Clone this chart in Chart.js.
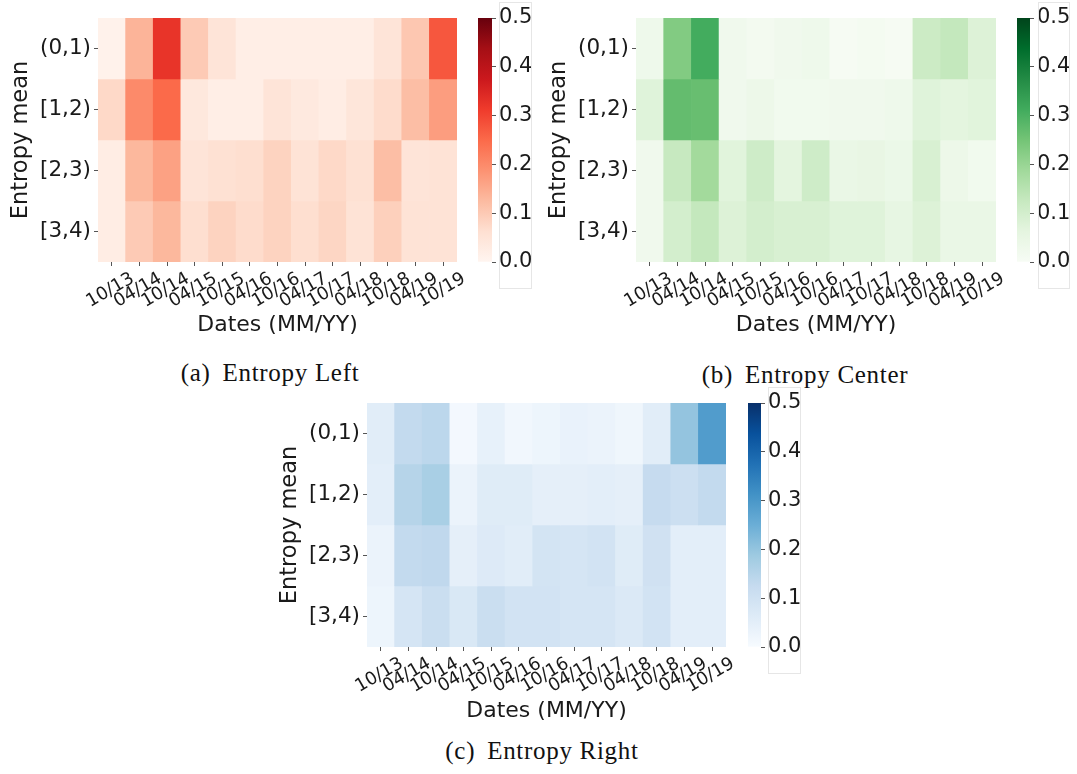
<!DOCTYPE html>
<html>
<head>
<meta charset="utf-8">
<script src="https://cdn.jsdelivr.net/npm/chart.js@4.4.0/dist/chart.umd.min.js"></script>
<style>
  body { margin: 0; background: #fff; width: 1077px; height: 774px; position: relative; overflow: hidden; }
  canvas { position: absolute; }
  .cap { position: absolute; font-family: "Liberation Serif", serif; font-size: 25px; color: #111;
         white-space: nowrap; transform: translate(-50%, -50%); letter-spacing: 0.7px; }
  .cap .lbl { margin-right: 12px; }
  .frame { position: absolute; border: 1px solid #e6e6e6; box-sizing: border-box; }
</style>
</head>
<body>
<canvas id="heatLeft" width="470" height="342" style="left:0px;top:0px"></canvas>
<canvas id="barLeft" width="75" height="290" style="left:468px;top:0px"></canvas>
<div class="frame" style="left:499px;top:2px;width:33px;height:287px"></div>
<div class="cap" style="left:270px;top:373px"><span class="lbl">(a)</span>Entropy Left</div>

<canvas id="heatCenter" width="471" height="342" style="left:538px;top:0px"></canvas>
<canvas id="barCenter" width="70" height="290" style="left:1007px;top:0px"></canvas>
<div class="frame" style="left:1038px;top:2px;width:32px;height:287px"></div>
<div class="cap" style="left:805px;top:375px"><span class="lbl">(b)</span>Entropy Center</div>

<canvas id="heatRight" width="470" height="343" style="left:269px;top:385px"></canvas>
<canvas id="barRight" width="75" height="290" style="left:738px;top:385px"></canvas>
<div class="frame" style="left:768px;top:387px;width:33px;height:287px"></div>
<div class="cap" style="left:542px;top:751px"><span class="lbl">(c)</span>Entropy Right</div>

<script>
// Survey dates on the x axis and entropy-mean bins on the y axis
const dates = ['10/13', '04/14', '10/14', '04/15', '10/15', '04/16', '10/16',
               '04/17', '10/17', '04/18', '10/18', '04/19', '10/19'];
const entropyBins = ['(0,1)', '[1,2)', '[2,3)', '[3,4)'];
const colorRange = [0, 0.5];
const colorbarStep = 0.1;

// Share of samples per (entropy bin, date), one row per bin
const entropyLeft = [
  [0.010, 0.135, 0.325, 0.100, 0.050, 0.020, 0.020, 0.020, 0.020, 0.020, 0.050, 0.105, 0.275],
  [0.075, 0.200, 0.250, 0.040, 0.020, 0.020, 0.050, 0.035, 0.025, 0.045, 0.070, 0.120, 0.170],
  [0.025, 0.130, 0.165, 0.050, 0.060, 0.065, 0.085, 0.055, 0.075, 0.060, 0.120, 0.050, 0.055],
  [0.025, 0.100, 0.130, 0.065, 0.085, 0.070, 0.085, 0.065, 0.080, 0.055, 0.090, 0.055, 0.055]
];
const entropyCenter = [
  [0.030, 0.230, 0.310, 0.025, 0.015, 0.025, 0.030, 0.005, 0.012, 0.005, 0.115, 0.130, 0.080],
  [0.075, 0.270, 0.265, 0.025, 0.035, 0.020, 0.020, 0.025, 0.025, 0.030, 0.075, 0.065, 0.070],
  [0.025, 0.125, 0.185, 0.070, 0.110, 0.065, 0.110, 0.045, 0.050, 0.040, 0.090, 0.035, 0.020],
  [0.025, 0.100, 0.130, 0.080, 0.100, 0.090, 0.090, 0.075, 0.075, 0.055, 0.080, 0.045, 0.045]
];
const entropyRight = [
  [0.055, 0.130, 0.140, 0.010, 0.040, 0.015, 0.025, 0.035, 0.030, 0.020, 0.055, 0.200, 0.290],
  [0.050, 0.150, 0.170, 0.030, 0.060, 0.060, 0.045, 0.045, 0.050, 0.045, 0.125, 0.110, 0.130],
  [0.030, 0.130, 0.135, 0.045, 0.065, 0.055, 0.090, 0.085, 0.095, 0.060, 0.100, 0.050, 0.050],
  [0.025, 0.085, 0.115, 0.075, 0.115, 0.095, 0.095, 0.085, 0.085, 0.070, 0.095, 0.050, 0.050]
];

// Sequential colour maps (ColorBrewer 9-class anchors)
const REDS   = ['#fff5f0', '#fee0d2', '#fcbba1', '#fc9272', '#fb6a4a', '#ef3b2c', '#cb181d', '#a50f15', '#67000d'];
const GREENS = ['#f7fcf5', '#e5f5e0', '#c7e9c0', '#a1d99b', '#74c476', '#41ab5d', '#238b45', '#006d2c', '#00441b'];
const BLUES  = ['#f7fbff', '#deebf7', '#c6dbef', '#9ecae1', '#6baed6', '#4292c6', '#2171b5', '#08519c', '#08306b'];

const TEXT = '#1a1a1a';
const TICK_MARK = '#555';
const SANS = 'DejaVu Sans';

function hexToRgb(h) {
  return [parseInt(h.slice(1, 3), 16), parseInt(h.slice(3, 5), 16), parseInt(h.slice(5, 7), 16)];
}

function colorAt(stops, v) {
  let t = (v - colorRange[0]) / (colorRange[1] - colorRange[0]);
  t = Math.min(1, Math.max(0, t)) * (stops.length - 1);
  const i = Math.min(Math.floor(t), stops.length - 2);
  const f = t - i;
  const a = hexToRgb(stops[i]), b = hexToRgb(stops[i + 1]);
  const c = a.map((x, k) => Math.round(x + (b[k] - x) * f));
  return `rgb(${c[0]},${c[1]},${c[2]})`;
}

function drawHeatmap(id, values, stops, xAxisHeight) {
  const datasets = values.map((row, r) => ({
    label: entropyBins[r],
    data: row.map(() => [r, r + 1]),
    backgroundColor: row.map(v => colorAt(stops, v)),
    borderWidth: 0,
    barPercentage: 1,
    categoryPercentage: 1,
    grouped: false
  }));
  new Chart(document.getElementById(id), {
    type: 'bar',
    data: { labels: dates, datasets },
    options: {
      responsive: false,
      animation: false,
      events: [],
      layout: { padding: { top: 18, right: 13, left: 0, bottom: 0 } },
      plugins: { legend: { display: false }, tooltip: { enabled: false } },
      scales: {
        x: {
          type: 'category',
          offset: true,
          grid: { display: true, drawOnChartArea: false, offset: false, tickLength: 4, tickColor: TICK_MARK },
          border: { display: false },
          ticks: {
            autoSkip: false, minRotation: 30, maxRotation: 30, labelOffset: 21, padding: 2,
            color: TEXT, font: { family: SANS, size: 18 }
          },
          title: {
            display: true, text: 'Dates (MM/YY)', color: TEXT,
            font: { family: SANS, size: 22 }, padding: { top: 0, bottom: 4 }
          },
          afterFit: s => { s.height = xAxisHeight; s.paddingLeft = 0; s.paddingRight = 0; }
        },
        y: {
          type: 'linear',
          min: 0, max: entropyBins.length,
          reverse: true,
          afterBuildTicks: s => { s.ticks = entropyBins.map((_, i) => ({ value: i + 0.5 })); },
          grid: { display: true, drawOnChartArea: false, tickLength: 4, tickColor: TICK_MARK },
          border: { display: false },
          ticks: {
            padding: 3, color: TEXT, font: { family: SANS, size: 21.5 },
            callback: v => entropyBins[Math.floor(v)]
          },
          title: {
            display: true, text: 'Entropy mean', color: TEXT,
            font: { family: SANS, size: 22.5 }, padding: { top: 8, bottom: 0 }
          },
          afterFit: s => { s.width = 98; s.paddingTop = 0; s.paddingBottom = 0; }
        }
      }
    }
  });
}

function drawColorbar(id, stops, barWidth) {
  const canvas = document.getElementById(id);
  const axisWidth = canvas.width - 10 - barWidth;
  new Chart(canvas, {
    type: 'bar',
    data: {
      labels: [''],
      datasets: [{
        data: [colorRange],
        borderWidth: 0,
        barPercentage: 1,
        categoryPercentage: 1,
        backgroundColor: c => {
          const area = c.chart.chartArea;
          if (!area) return stops[0];
          const g = c.chart.ctx.createLinearGradient(0, area.bottom, 0, area.top);
          stops.forEach((s, i) => g.addColorStop(i / (stops.length - 1), s));
          return g;
        }
      }]
    },
    options: {
      responsive: false,
      animation: false,
      events: [],
      layout: { padding: { top: 18, bottom: 28, left: 10, right: 0 } },
      plugins: { legend: { display: false }, tooltip: { enabled: false } },
      scales: {
        x: { display: false, offset: true },
        y: {
          position: 'right',
          min: colorRange[0], max: colorRange[1],
          grid: { display: true, drawOnChartArea: false, tickLength: 4, tickColor: TICK_MARK },
          border: { display: false },
          ticks: {
            stepSize: colorbarStep, padding: 3, color: TEXT,
            font: { family: SANS, size: 21 },
            callback: v => Number(v).toFixed(1)
          },
          afterFit: s => { s.width = axisWidth; }
        }
      }
    }
  });
}

drawHeatmap('heatLeft', entropyLeft, REDS, 80);
drawColorbar('barLeft', REDS, 14);
drawHeatmap('heatCenter', entropyCenter, GREENS, 80);
drawColorbar('barCenter', GREENS, 13);
drawHeatmap('heatRight', entropyRight, BLUES, 81);
drawColorbar('barRight', BLUES, 13);
</script>
</body>
</html>
